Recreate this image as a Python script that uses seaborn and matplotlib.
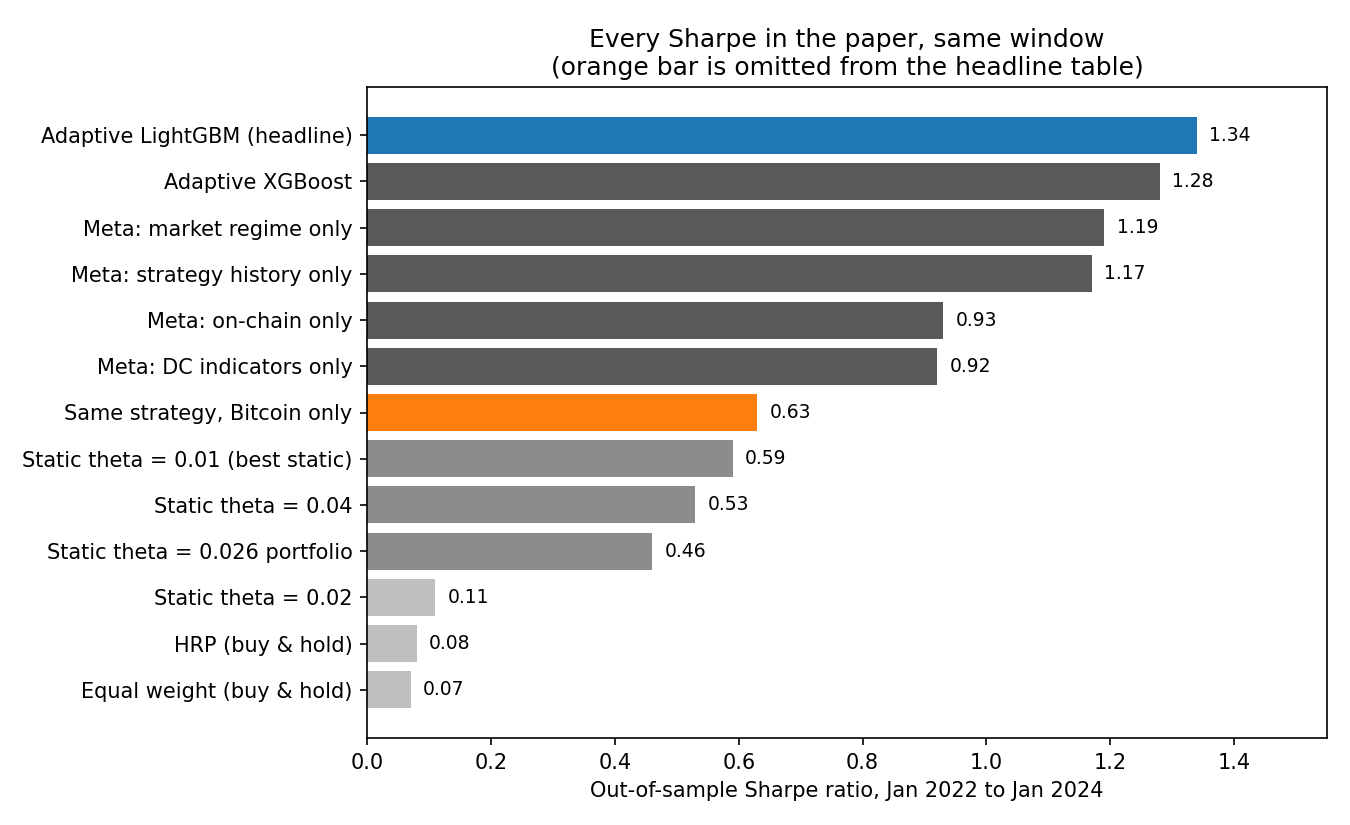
import matplotlib
matplotlib.use("Agg")
import matplotlib.pyplot as plt
import seaborn as sns
import pandas as pd

labels = [
    "Adaptive LightGBM (headline)",
    "Adaptive XGBoost",
    "Meta: market regime only",
    "Meta: strategy history only",
    "Meta: on-chain only",
    "Meta: DC indicators only",
    "Same strategy, Bitcoin only",
    "Static theta = 0.01 (best static)",
    "Static theta = 0.04",
    "Static theta = 0.026 portfolio",
    "Static theta = 0.02",
    "HRP (buy & hold)",
    "Equal weight (buy & hold)",
]
sharpe = [1.34, 1.28, 1.19, 1.17, 0.93, 0.92, 0.63, 0.59, 0.53, 0.46, 0.11, 0.08, 0.07]
colors = ["#1f77b4"] + ["#595959"] * 5 + ["#ff7f0e"] + ["#8c8c8c"] * 3 + ["#bfbfbf"] * 3

df = pd.DataFrame({"label": labels, "sharpe": sharpe})

fig, ax = plt.subplots(figsize=(9, 5.5), dpi=150)
sns.barplot(data=df, x="sharpe", y="label", hue="label", palette=colors,
            order=labels, hue_order=labels, orient="h", width=0.8,
            saturation=1, legend=False, ax=ax)

for i, v in enumerate(sharpe):
    ax.text(v + 0.02, i, f"{v:.2f}", va="center", ha="left", fontsize=9)

ax.set_xlim(0, 1.55)
ax.set_ylim(13.04, -1.04)
ax.set_ylabel("")
ax.set_xlabel("Out-of-sample Sharpe ratio, Jan 2022 to Jan 2024")
ax.set_title("Every Sharpe in the paper, same window\n(orange bar is omitted from the headline table)")
for s in ax.spines.values():
    s.set_visible(True)

plt.subplots_adjust(left=0.272, right=0.983, top=0.8945, bottom=0.1055)
plt.savefig("out.png")
